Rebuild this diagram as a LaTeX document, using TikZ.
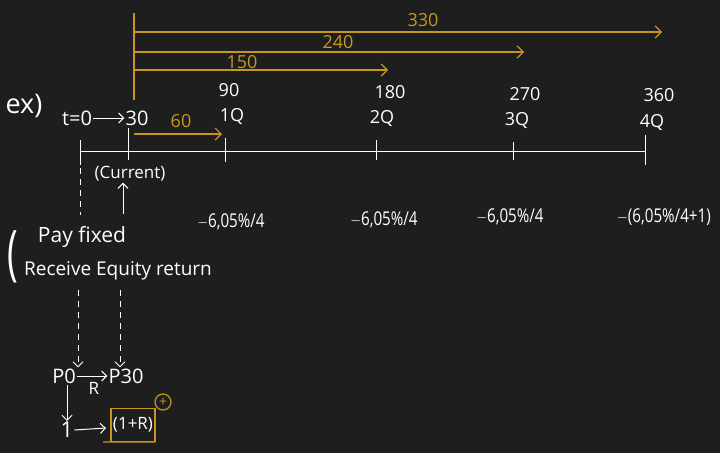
\documentclass[tikz,border=0pt]{standalone}
\usepackage{fontspec}
\setmainfont{Open Sans}
\usetikzlibrary{arrows.meta}
\definecolor{bg}{HTML}{1E1E1E}
\definecolor{gold}{HTML}{C8961E}
\tikzset{
  wtxt/.style={text=white, font=\fontsize{18}{19}\selectfont, inner sep=1pt},
  gtxt/.style={text=gold, font=\fontsize{18}{19}\selectfont, inner sep=1pt},
  ctxt/.style={wtxt, font=\fontsize{19}{20}\selectfont, xscale=0.8},
  wline/.style={draw=white, line width=1pt},
  gline/.style={draw=gold, line width=1.2pt},
  garrow/.style={gline, -{Straight Barb[length=6pt,width=12pt]}},
  warrow/.style={wline, -{Straight Barb[length=5pt,width=10pt]}},
  dashw/.style={wline, dash pattern=on 6pt off 5pt},
}
\begin{document}
\begin{tikzpicture}[x=1pt,y=-1pt]
\useasboundingbox[fill=bg] (0,0) rectangle (720,453);
% title
\node[wtxt, font=\fontsize{27}{28}\selectfont] (ex) at (24,106) {ex)};
\node[wtxt, font=\fontsize{20}{20}\selectfont] (t0) at (77,118) {t=0};
\node[wtxt, font=\fontsize{20}{20}\selectfont] (t30) at (137,118) {30};
\draw[warrow] (t0) -- (t30);
% timeline
\coordinate (L) at (80,151);
\coordinate (Rr) at (645,151);
\draw[wline] (L) -- (Rr);
\coordinate (k0a) at (80,140); \coordinate (k0b) at (80,165);
\coordinate (k1a) at (128,128); \coordinate (k1b) at (128,160);
\coordinate (k2a) at (225,138); \coordinate (k2b) at (225,162);
\coordinate (k3a) at (376,140); \coordinate (k3b) at (376,160);
\coordinate (k4a) at (513,142); \coordinate (k4b) at (513,160);
\coordinate (k5a) at (645,135); \coordinate (k5b) at (645,165);
\foreach \i in {0,...,5}{\draw[wline] (k\i a) -- (k\i b);}
% tick labels
\node[wtxt] (d90) at (229,90) {90};
\node[wtxt] (q1) at (232,117) {1Q};
\node[wtxt] (d180) at (390,92) {180};
\node[wtxt] (q2) at (382,118) {2Q};
\node[wtxt] (d270) at (525,94) {270};
\node[wtxt] (q3) at (517,121) {3Q};
\node[wtxt] (d360) at (659,95) {360};
\node[wtxt] (q4) at (652,122) {4Q};
% gold arrows
\coordinate (gv0) at (134,13);
\coordinate (gv1) at (134,100);
\draw[gline] (gv0) -- (gv1);
\coordinate (g330s) at (134,32); \coordinate (g330e) at (662,32);
\coordinate (g240s) at (134,52); \coordinate (g240e) at (524,52);
\coordinate (g150s) at (134,70); \coordinate (g150e) at (388,70);
\draw[garrow] (g330s) -- (g330e);
\draw[garrow] (g240s) -- (g240e);
\draw[garrow] (g150s) -- (g150e);
\node[gtxt] (l330) at (423,20) {330};
\node[gtxt] (l240) at (338,42) {240};
\node[gtxt] (l150) at (242,62) {150};
\coordinate (g60s) at (134,134); \coordinate (g60e) at (222,134);
\draw[garrow] (g60s) -- (g60e);
\node[gtxt] (l60) at (181,121) {60};
% current
\node[wtxt, font=\fontsize{17}{18}\selectfont] (cur) at (130,174) {(Current)};
\coordinate (ua) at (123,214);
\draw[warrow] (ua) -- (cur.south -| ua);
% coupons
\node[ctxt] (c1) at (231,222) {$-$6,05\%/4};
\node[ctxt] (c2) at (384,220) {$-$6,05\%/4};
\node[ctxt] (c3) at (510,217) {$-$6,05\%/4};
\node[ctxt] (c4) at (664,217) {$-$(6,05\%/4+1)};
% legs
\coordinate (ds0) at (80,168); \coordinate (ds1) at (80,215);
\draw[dashw] (ds0) -- (ds1);
\node[wtxt, font=\fontsize{21}{22}\selectfont] (pay) at (82,237) {Pay fixed};
\node[wtxt, font=\fontsize{19}{22}\selectfont] (rec) at (118,271) {Receive Equity return};
\node[wtxt, font=\fontsize{60}{60}\selectfont, xscale=0.6] (br) at (13,257) {(};
% dashed arrows down
\coordinate (da0) at (78,290); \coordinate (db0) at (120,290);
\node[wtxt, font=\fontsize{20}{22}\selectfont] (p0) at (64,376) {P0};
\node[wtxt, font=\fontsize{20}{22}\selectfont] (p30) at (126,376) {P30};
\draw[dashw, -{Straight Barb[length=5pt,width=10pt]}] (da0) -- (da0 |- p0.north);
\draw[dashw, -{Straight Barb[length=5pt,width=10pt]}] (db0) -- (db0 |- p30.north);
\draw[warrow] (p0.east) -- (p30.west);
\node[wtxt, font=\fontsize{17}{18}\selectfont] (rr) at (94,388) {R};
% bottom
\node[wtxt, font=\fontsize{22}{22}\selectfont] (one) at (67,430) {1};
\draw[warrow] (p0.south -| one) -- (one.north);
\node[wtxt, text=white, draw=gold, line width=1.2pt, minimum width=44pt, minimum height=33pt, font=\fontsize{17}{18}\selectfont, inner sep=0pt] (ihr) at (133,425) {(1+R)};
\coordinate (bl) at (103,442);
\draw[gline] (bl) -- (ihr.south east);
\coordinate (ae) at (106,428);
\draw[warrow] (one.east) -- (ae);
\node[draw=gold, line width=1.2pt, circle, minimum size=16pt, inner sep=0pt, text=gold, font=\fontsize{14}{14}\selectfont] (plus) at (163,402) {+};
\end{tikzpicture}
\end{document}
